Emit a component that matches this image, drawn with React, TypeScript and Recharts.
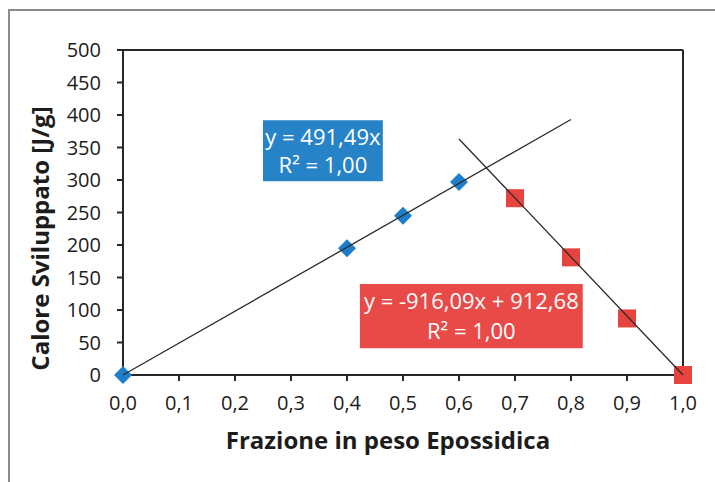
import React from 'react';
import { ScatterChart, Scatter, XAxis, YAxis, ReferenceLine, ReferenceArea, Label } from 'recharts';

// epoxy weight fraction vs developed heat
const resinX = [0, 0.4, 0.5, 0.6];
const resinHeat = [0, 195, 245, 297];
const blendX = [0.7, 0.8, 0.9, 1.0];
const blendHeat = [272, 181, 87, 0];

// trendline end points
const riseFitX = [0, 0.8];
const riseFitY = [0, 393];
const fallFitX = [0.6, 1.0];
const fallFitY = [363, 0];

const xTicks = [0, 0.1, 0.2, 0.3, 0.4, 0.5, 0.6, 0.7, 0.8, 0.9, 1.0];
const yTicks = [0, 50, 100, 150, 200, 250, 300, 350, 400, 450, 500];

const riseLabel = ['y = 491,49x', 'R² = 1,00'];
const fallLabel = ['y = -916,09x + 912,68', 'R² = 1,00'];

const toPoints = (xs: number[], ys: number[]) => xs.map((x, i) => ({ x, y: ys[i] }));

const FONT = "'Open Sans', sans-serif";
const INK = '#1c1c1c';

const Diamond = (props: any) => {
  const { cx, cy } = props;
  const r = 9;
  return (
    <polygon
      points={`${cx},${cy - r} ${cx + r},${cy} ${cx},${cy + r} ${cx - r},${cy}`}
      fill="#1f7ec9"
    />
  );
};

const Square = (props: any) => {
  const { cx, cy } = props;
  return <rect x={cx - 9} y={cy - 9} width={18} height={18} fill="#e8443f" />;
};

const NoDot = () => <g />;

const BoxText = ({ viewBox, lines }: any) => {
  const { x, y, width, height } = viewBox;
  const cx = x + width / 2;
  const step = height / 2.2;
  return (
    <g>
      {lines.map((t: string, i: number) => (
        <text
          key={i}
          x={cx}
          y={y + height / 2 + (i - 0.5) * step}
          dy="0.36em"
          textAnchor="middle"
          fill="#fff"
          fontSize={22}
          fontFamily={FONT}
        >
          {t}
        </text>
      ))}
    </g>
  );
};

const YTitle = ({ viewBox }: any) => {
  const cx = viewBox.x + 40;
  const cy = viewBox.y + viewBox.height / 2 + 26;
  return (
    <text
      x={cx}
      y={cy}
      transform={`rotate(-90, ${cx}, ${cy})`}
      textAnchor="middle"
      dy="0.36em"
      fontSize={24}
      fontWeight="bold"
      fill={INK}
      fontFamily={FONT}
    >
      Calore Sviluppato [J/g]
    </text>
  );
};

const XTitle = ({ viewBox }: any) => (
  <text
    x={viewBox.x + viewBox.width / 2 - 15}
    y={viewBox.y + 74}
    textAnchor="middle"
    fontSize={24}
    fontWeight="bold"
    fill={INK}
    fontFamily={FONT}
  >
    Frazione in peso Epossidica
  </text>
);

const App: React.FC = () => {
  return (
    <div style={{ position: 'absolute', left: 0, top: 0, width: 715, height: 482, background: '#fff' }}>
      <div
        style={{
          position: 'absolute',
          left: 8,
          top: 9,
          right: 0,
          bottom: 0,
          borderTop: '2px solid #8c8c8c',
          borderLeft: '2px solid #8c8c8c',
        }}
      />
      <ScatterChart
        width={715}
        height={482}
        margin={{ top: 50, right: 32, bottom: 0, left: 0 }}
        style={{ fontFamily: FONT, position: 'absolute', left: 0, top: 0 }}
      >
        <XAxis
          type="number"
          dataKey="x"
          domain={[0, 1]}
          ticks={xTicks}
          interval={0}
          height={107}
          tickSize={6}
          tickMargin={15}
          tickFormatter={(v: number) => v.toFixed(1).replace('.', ',')}
          stroke="#262626"
          strokeWidth={2}
          tick={{ fill: INK, fontSize: 20, fontFamily: FONT }}
        >
          <Label content={XTitle} />
        </XAxis>
        <YAxis
          type="number"
          dataKey="y"
          domain={[0, 500]}
          ticks={yTicks}
          interval={0}
          width={123}
          tickSize={6}
          tickMargin={16}
          stroke="#262626"
          strokeWidth={2}
          tick={{ fill: INK, fontSize: 20, fontFamily: FONT }}
        >
          <Label content={YTitle} />
        </YAxis>
        <ReferenceLine y={500} stroke="#262626" strokeWidth={2} />
        <ReferenceLine x={1} stroke="#262626" strokeWidth={2} />
        <ReferenceArea x1={0.25} x2={0.464} y1={298} y2={392} fill="#2783c7" fillOpacity={1} stroke="none">
          <Label content={(p: any) => <BoxText viewBox={p.viewBox} lines={riseLabel} />} />
        </ReferenceArea>
        <ReferenceArea x1={0.423} x2={0.821} y1={41} y2={140} fill="#e84a48" fillOpacity={1} stroke="none">
          <Label content={(p: any) => <BoxText viewBox={p.viewBox} lines={fallLabel} />} />
        </ReferenceArea>
        <Scatter data={toPoints(resinX, resinHeat)} shape={Diamond} isAnimationActive={false} />
        <Scatter data={toPoints(blendX, blendHeat)} shape={Square} isAnimationActive={false} />
        <Scatter
          data={toPoints(riseFitX, riseFitY)}
          line={{ stroke: '#2a2a2a', strokeWidth: 1.3 }}
          shape={NoDot}
          isAnimationActive={false}
        />
        <Scatter
          data={toPoints(fallFitX, fallFitY)}
          line={{ stroke: '#2a2a2a', strokeWidth: 1.3 }}
          shape={NoDot}
          isAnimationActive={false}
        />
      </ScatterChart>
    </div>
  );
};

export default App;
